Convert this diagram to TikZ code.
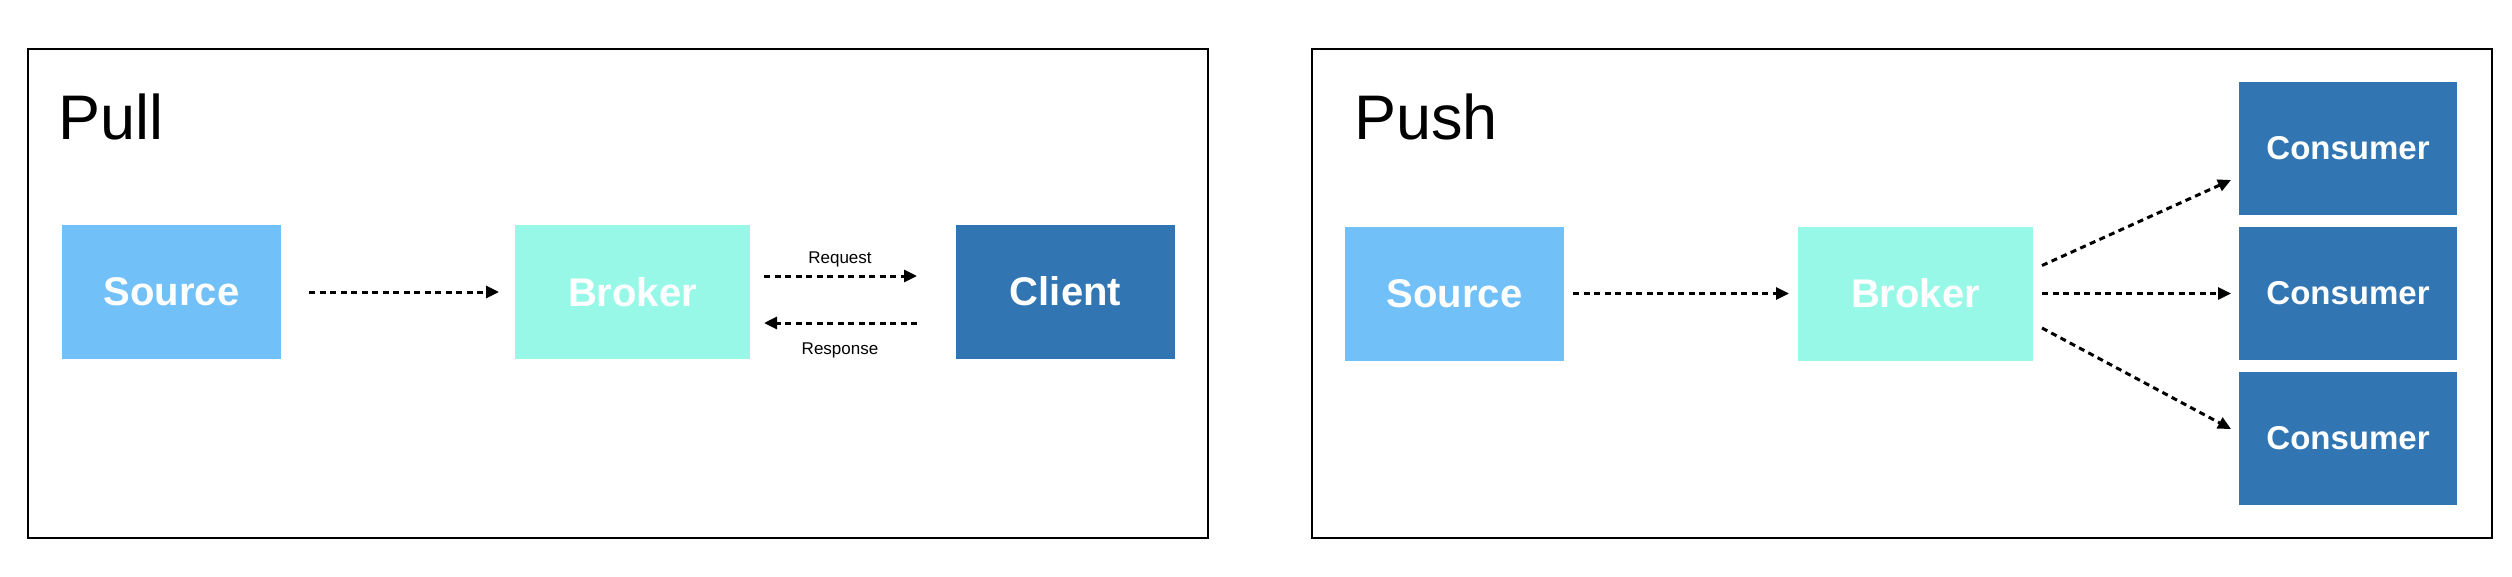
\documentclass[tikz,border=0pt]{standalone}
\usepackage{fontspec}
\setmainfont{Liberation Sans}
\usetikzlibrary{arrows.meta,calc}
\definecolor{srcblue}{HTML}{72C0F8}
\definecolor{brokermint}{HTML}{98F8E8}
\definecolor{darkblue}{HTML}{3176B3}
\begin{document}
\begin{tikzpicture}[x=1pt,y=-1pt,
  box/.style={rectangle, inner sep=0pt, outer sep=0pt, text=white,
    font=\fontsize{40}{40}\selectfont\bfseries},
  srcbox/.style={box, fill=srcblue, minimum width=219pt, minimum height=134pt},
  brokerbox/.style={box, fill=brokermint, minimum width=235pt, minimum height=134pt},
  clientbox/.style={box, fill=darkblue, minimum width=219pt, minimum height=134pt},
  consumerbox/.style={box, fill=darkblue, minimum width=218pt, minimum height=133pt,
    font=\fontsize{33}{33}\selectfont\bfseries},
  flow/.style={line width=3pt, dash pattern=on 6pt off 4.5pt,
    -{Triangle[length=13pt,width=12pt]}},
  panel/.style={draw=black, line width=2pt},
  title/.style={anchor=base west, inner sep=0pt, font=\fontsize{63}{63}\selectfont},
  msg/.style={anchor=base, inner sep=0pt, font=\fontsize{17}{17}\selectfont}]
\useasboundingbox (0,0) rectangle (2512,576);

% ---------- Pull ----------
\draw[panel] (28,49) rectangle (1208,538);
\node[title] (pulltitle) at (58,139) {Pull};
\node[srcbox] (s1) at (171.5,292) {Source};
\node[brokerbox] (b1) at (632.5,292) {Broker};
\node[clientbox] (c1) at (1065.5,291.5) {Client};
\draw[flow] ($(s1.east)+(28,0)$) -- ($(b1.west)+(-16,0)$);
\draw[flow] ($(b1.east)+(14,-16)$) -- ($(c1.west)+(-39,-15.5)$);
\draw[flow] ($(c1.west)+(-39,31.5)$) -- ($(b1.east)+(14,31)$);
\node[msg] (req) at (840,263) {Request};
\node[msg] (resp) at (840,354) {Response};

% ---------- Push ----------
\draw[panel] (1312,49) rectangle (2492,538);
\node[title] (pushtitle) at (1354,139) {Push};
\node[srcbox] (s2) at (1454.5,293.5) {Source};
\node[brokerbox] (b2) at (1915.5,293.5) {Broker};
\node[consumerbox] (k1) at (2348,148.5) {Consumer};
\node[consumerbox] (k2) at (2348,293.5) {Consumer};
\node[consumerbox] (k3) at (2348,438) {Consumer};
\draw[flow] ($(s2.east)+(9,0)$) -- ($(b2.west)+(-9,0)$);
\draw[flow] ($(b2.east)+(9,-28)$) -- ($(k1.west)+(-8,31.5)$);
\draw[flow] ($(b2.east)+(9,0)$) -- ($(k2.west)+(-8,0)$);
\draw[flow] ($(b2.east)+(9,34.5)$) -- ($(k3.west)+(-8,-9)$);
\end{tikzpicture}
\end{document}
